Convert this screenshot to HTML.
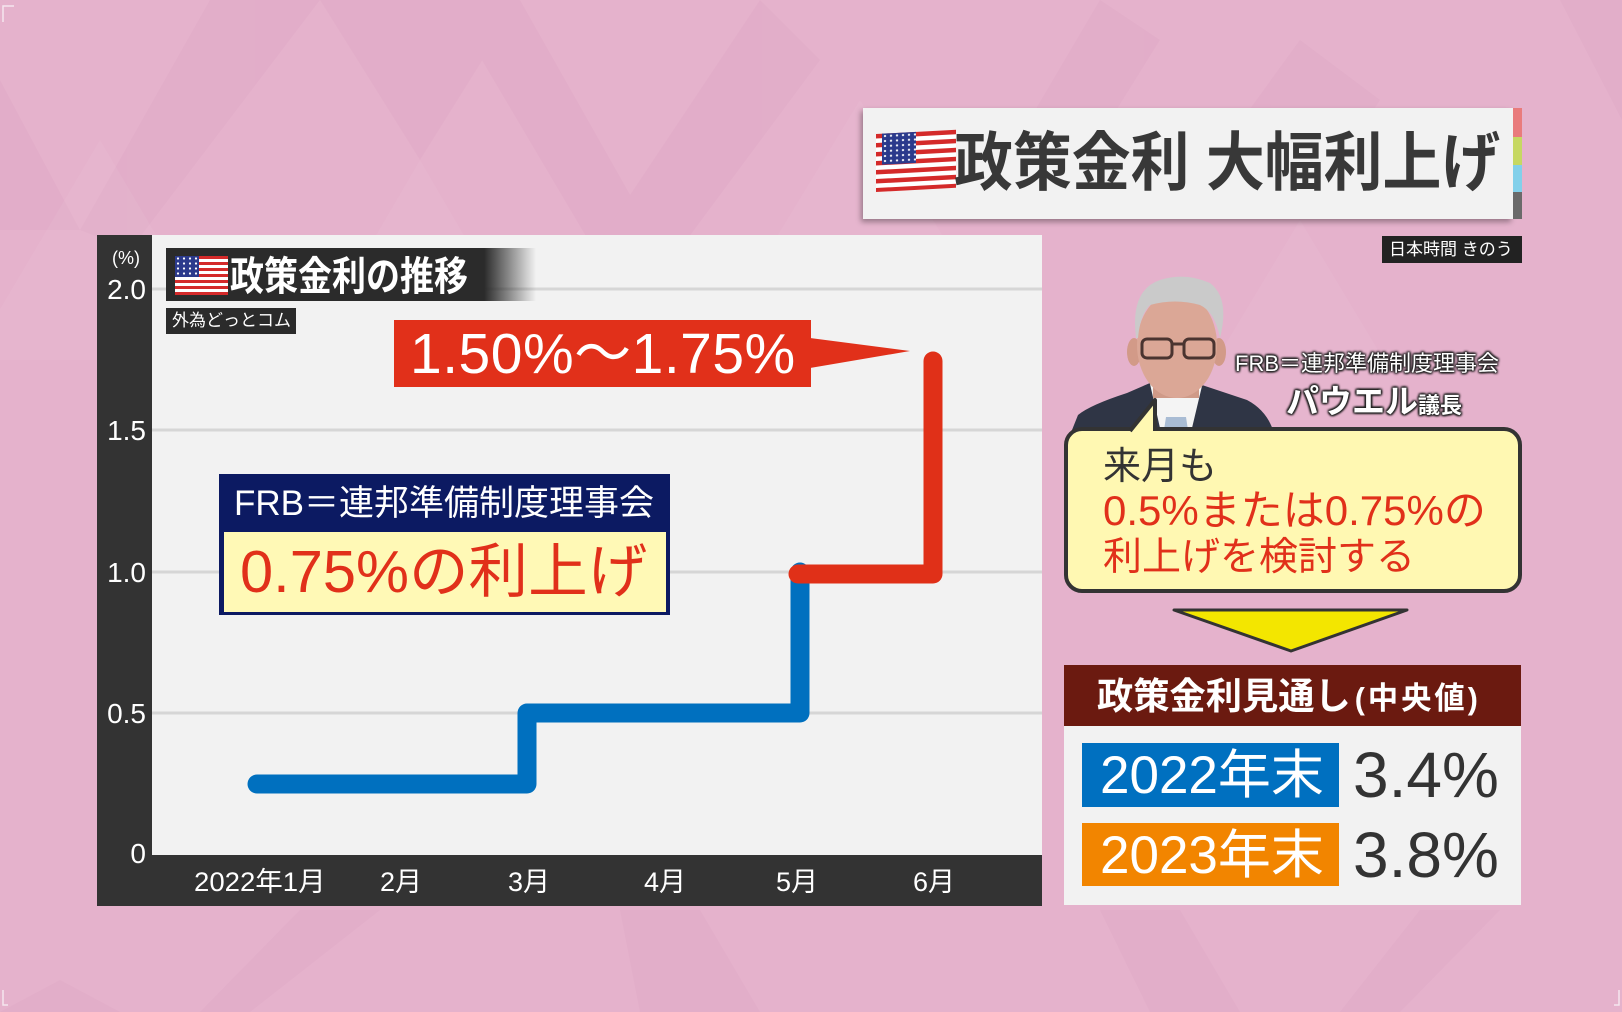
<!DOCTYPE html>
<html><head><meta charset="utf-8">
<style>
html,body{margin:0;padding:0;}
body{width:1622px;height:1012px;position:relative;overflow:hidden;background:#e5b2cc;font-family:"Liberation Sans","Noto Sans CJK JP",sans-serif;}
.t{position:absolute;white-space:nowrap;line-height:1;transform-origin:0 0;}
svg{position:absolute;left:0;top:0;}
.ol{text-shadow:0 0 2px #222,0 0 2px #222,1px 1px 2px #222,-1px -1px 2px #222,1px -1px 2px #222,-1px 1px 2px #222;}
</style></head><body>
<svg width="1622" height="1012" viewBox="0 0 1622 1012">
<defs>
<linearGradient id="tb" x1="0" x2="1" y1="0" y2="0">
<stop offset="0" stop-color="#2b2b2b"/><stop offset="0.86" stop-color="#2b2b2b"/><stop offset="1" stop-color="#2b2b2b" stop-opacity="0"/>
</linearGradient>
<pattern id="stars" width="6" height="5" patternUnits="userSpaceOnUse"><circle cx="3" cy="2.5" r="1.1" fill="#fff"/></pattern>
<filter id="sh" x="-5%" y="-20%" width="110%" height="150%"><feDropShadow dx="-2" dy="3" stdDeviation="3" flood-color="#000" flood-opacity="0.35"/></filter>
</defs>
<g fill="#d99cbc" opacity="0.18">
<polygon points="0,80 80,230 0,230"/>
<polygon points="210,0 320,0 130,250 80,230"/>
<polygon points="320,0 420,160 520,0"/>
<polygon points="520,0 650,230 600,260 470,40"/>
<polygon points="760,0 560,300 620,330 820,60"/>
<polygon points="1100,0 1000,170 1060,200 1160,40"/>
<polygon points="1300,40 1220,150 1300,220 1380,100"/>
<polygon points="1560,0 1622,0 1622,120"/>
<polygon points="60,980 120,1012 0,1012"/>
<polygon points="300,910 380,910 250,1012 200,1012"/>
<polygon points="620,910 700,910 760,1012 640,1012"/>
<polygon points="1100,910 1180,910 1240,1012 1150,1012"/>
<polygon points="1420,910 1500,910 1400,1012 1340,1012"/>
</g>
<g fill="#ecc4d7" opacity="0.2">
<polygon points="420,160 560,400 280,400"/>
<polygon points="860,100 1000,330 720,330"/>
<polygon points="1300,220 1420,420 1180,420"/>
<polygon points="100,140 230,360 -30,360"/>
</g>
<path d="M3,22 V6 H14" stroke="#f5e6ee" stroke-width="1.5" fill="none"/>
<path d="M3,990 V1005 H8" stroke="#f5e6ee" stroke-width="1.5" fill="none"/>
<path d="M1619,990 V1005 H1614" stroke="#f5e6ee" stroke-width="1.5" fill="none"/>

<rect x="97" y="235" width="945" height="671" fill="#333333"/>
<rect x="152" y="235" width="890" height="620" fill="#f2f2f2"/>
<g stroke="#d6d6d6" stroke-width="3">
<line x1="152" y1="289" x2="1042" y2="289"/>
<line x1="152" y1="430" x2="1042" y2="430"/>
<line x1="152" y1="572" x2="1042" y2="572"/>
<line x1="152" y1="713" x2="1042" y2="713"/>
</g>
<rect x="166" y="248" width="370" height="53" fill="url(#tb)"/>
<rect x="166" y="308" width="130" height="26" fill="#2b2b2b"/>
<g transform="translate(175,256)">
<rect x="0" y="0" width="53" height="39" fill="#fff"/>
<g fill="#d42a2a">
<rect y="0" width="53" height="3"/><rect y="6" width="53" height="3"/><rect y="12" width="53" height="3"/><rect y="18" width="53" height="3"/><rect y="24" width="53" height="3"/><rect y="30" width="53" height="3"/><rect y="36" width="53" height="3"/>
</g>
<rect x="0" y="0" width="24" height="21" fill="#2b3a8c"/>
<rect x="0" y="0" width="24" height="21" fill="url(#stars)"/>
</g>
<path d="M257,784 H527 V713 H800 V572" fill="none" stroke="#0070bf" stroke-width="19" stroke-linecap="round" stroke-linejoin="round"/>
<path d="M798,574 H933 V361" fill="none" stroke="#e03018" stroke-width="19" stroke-linecap="round" stroke-linejoin="round"/>
<rect x="394" y="320" width="417" height="67" fill="#e1301a"/>
<polygon points="810,338 910,351 810,368" fill="#e1301a"/>
<rect x="219" y="474" width="451" height="141" fill="#0c1a62"/>
<rect x="224" y="532" width="442" height="80" fill="#fff9b6"/>

<rect x="863" y="108" width="650" height="111" fill="#f2f2f2" filter="url(#sh)"/>
<rect x="1513" y="108" width="9" height="29" fill="#e97b7c"/>
<rect x="1513" y="137" width="9" height="28" fill="#c6d862"/>
<rect x="1513" y="165" width="9" height="27" fill="#82d0ea"/>
<rect x="1513" y="192" width="9" height="27" fill="#6a6a6a"/>
<g transform="translate(876,134) skewY(-3)">
<rect x="0" y="0" width="80" height="58" fill="#fff"/>
<g fill="#d42a2a">
<rect y="0" width="80" height="4.5"/><rect y="9" width="80" height="4.5"/><rect y="18" width="80" height="4.5"/><rect y="27" width="80" height="4.5"/><rect y="36" width="80" height="4.5"/><rect y="45" width="80" height="4.5"/><rect y="54" width="80" height="4"/>
</g>
<rect x="6" y="0" width="34" height="31" fill="#2b3a8c"/>
<rect x="6" y="0" width="34" height="31" fill="url(#stars)"/>
</g>
<rect x="1382" y="236" width="140" height="27" fill="#222"/>

<path d="M1072,430 L1078,415 Q1090,405 1127,393 L1150,383 L1202,385 L1247,400 Q1266,410 1273,430 Z" fill="#2f3545"/>
<path d="M1150,384 L1160,428 L1192,428 L1202,386 L1176,398 Z" fill="#f4f4f4"/>
<path d="M1166,417 L1186,417 L1188,430 L1164,430 Z" fill="#a9bcd4"/>
<rect x="1153" y="370" width="46" height="28" fill="#cf9a88"/>
<ellipse cx="1134" cy="352" rx="7" ry="14" fill="#d29a88"/>
<ellipse cx="1219" cy="352" rx="7" ry="14" fill="#d29a88"/>
<ellipse cx="1177" cy="345" rx="40" ry="53" fill="#dba796"/>
<path d="M1136,338 Q1130,290 1160,280 Q1185,272 1210,283 Q1230,298 1220,338 Q1215,312 1200,305 Q1175,298 1150,305 Q1140,315 1138,338 Z" fill="#cacaca"/>
<g fill="none" stroke="#4a3430" stroke-width="3">
<rect x="1142" y="339" width="30" height="19" rx="5"/>
<rect x="1184" y="339" width="30" height="19" rx="5"/>
<line x1="1172" y1="344" x2="1184" y2="344"/>
</g>
<rect x="1066" y="429" width="454" height="162" rx="16" fill="#fff8b2" stroke="#333" stroke-width="4"/>
<path d="M1130,432 L1155,400 L1155,432 Z" fill="#fff8b2"/>
<path d="M1130,431 L1155,400 L1155,431" fill="none" stroke="#333" stroke-width="4" stroke-linejoin="round"/>
<polygon points="1174,610 1407,610 1291,651" fill="#f3e600" stroke="#333" stroke-width="3" stroke-linejoin="round"/>
<rect x="1064" y="665" width="457" height="61" fill="#6b1a10"/>
<rect x="1064" y="726" width="457" height="179" fill="#f2f2f2"/>
<rect x="1082" y="743" width="257" height="64" fill="#0070c0"/>
<rect x="1082" y="823" width="257" height="63" fill="#f28500"/>
</svg>

<div class="t" style="left:112px;top:249px;font-size:18px;color:#fff;">(%)</div>
<div class="t" style="left:100px;top:276px;width:46px;text-align:right;font-size:28px;color:#fff;">2.0</div>
<div class="t" style="left:100px;top:417px;width:46px;text-align:right;font-size:28px;color:#fff;">1.5</div>
<div class="t" style="left:100px;top:559px;width:46px;text-align:right;font-size:28px;color:#fff;">1.0</div>
<div class="t" style="left:100px;top:700px;width:46px;text-align:right;font-size:28px;color:#fff;">0.5</div>
<div class="t" style="left:100px;top:840px;width:46px;text-align:right;font-size:28px;color:#fff;">0</div>

<div class="t" style="left:194px;top:869px;font-size:27px;color:#fff;transform:scaleX(1.02);">2022年1月</div>
<div class="t" style="left:380px;top:869px;font-size:27px;color:#fff;">2月</div>
<div class="t" style="left:508px;top:869px;font-size:27px;color:#fff;">3月</div>
<div class="t" style="left:644px;top:869px;font-size:27px;color:#fff;">4月</div>
<div class="t" style="left:776px;top:869px;font-size:27px;color:#fff;">5月</div>
<div class="t" style="left:913px;top:869px;font-size:27px;color:#fff;">6月</div>

<div class="t" style="left:230px;top:257px;font-size:40px;font-weight:bold;color:#fff;transform:scaleX(0.85);">政策金利の推移</div>
<div class="t" style="left:172px;top:312px;font-size:17px;color:#fff;">外為どっとコム</div>

<div class="t" style="left:410px;top:326px;font-size:57px;color:#fff;letter-spacing:0.5px;">1.50%～1.75%</div>
<div class="t" style="left:234px;top:486px;font-size:35px;color:#fff;">FRB＝連邦準備制度理事会</div>
<div class="t" style="left:240px;top:543px;font-size:59px;color:#e1301a;transform:scaleX(1.01);">0.75%の利上げ</div>

<div class="t" style="left:954px;top:131px;font-size:64px;font-weight:bold;color:#383838;transform:scaleX(0.92);">政策金利 大幅利上げ</div>
<div class="t" style="left:1389px;top:241px;font-size:17px;color:#fff;">日本時間 きのう</div>

<div class="t ol" style="left:1235px;top:353px;font-size:22px;color:#fff;">FRB＝連邦準備制度理事会</div>
<div class="t ol" style="left:1286px;top:385px;font-size:33px;color:#fff;font-weight:bold;">パウエル<span style="font-size:22px;">議長</span></div>

<div class="t" style="left:1103px;top:448px;font-size:38px;color:#333;">来月も</div>
<div class="t" style="left:1103px;top:490px;font-size:42px;color:#e1301a;">0.5%または0.75%の</div>
<div class="t" style="left:1103px;top:538px;font-size:39px;color:#e1301a;">利上げを検討する</div>

<div class="t" style="left:1097px;top:678px;font-size:37px;font-weight:bold;color:#fff;transform:scaleX(0.98);">政策金利見通し<span style="font-size:31px;font-weight:bold;letter-spacing:3px;margin-left:4px;">(中央値)</span></div>
<div class="t" style="left:1100px;top:749px;font-size:53px;color:#fff;">2022年末</div>
<div class="t" style="left:1353px;top:743px;font-size:64px;color:#333;">3.4%</div>
<div class="t" style="left:1100px;top:829px;font-size:53px;color:#fff;">2023年末</div>
<div class="t" style="left:1353px;top:823px;font-size:64px;color:#333;">3.8%</div>
</body></html>
